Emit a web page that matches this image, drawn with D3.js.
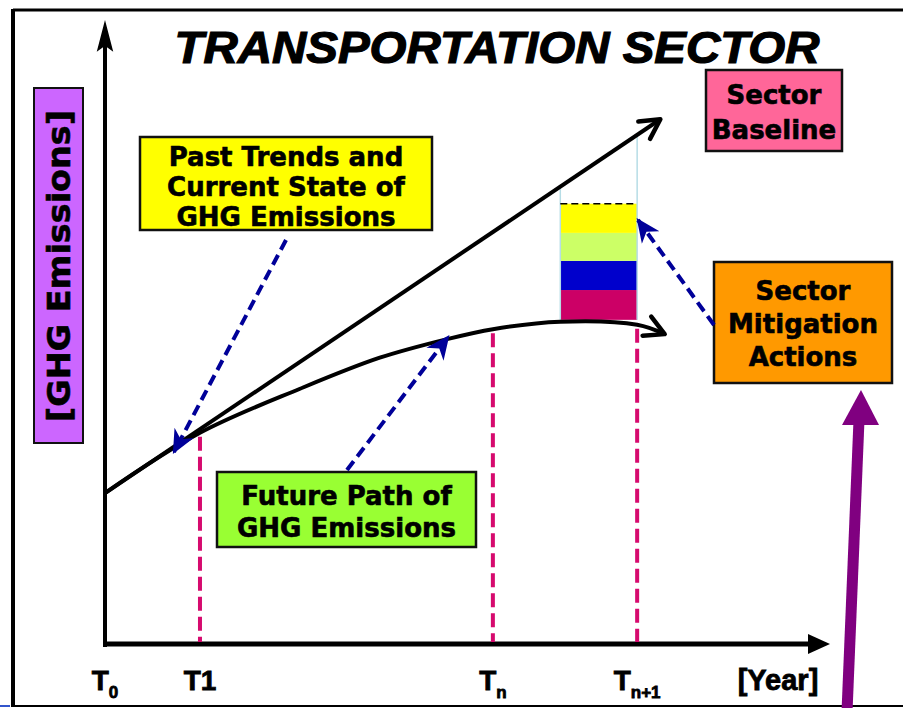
<!DOCTYPE html>
<html>
<head>
<meta charset="utf-8">
<script src="https://cdn.jsdelivr.net/npm/d3@7"></script>
<style>
  html, body { margin: 0; padding: 0; background: #fff; }
  svg { display: block; }
  .box text { font-family: "DejaVu Sans", Verdana, sans-serif; font-weight: bold; fill: #000; }
  .tick text { font-family: "Liberation Sans", Arial, sans-serif; font-weight: bold; stroke: #000; stroke-width: 0.8; }
</style>
</head>
<body>
<svg></svg>
<script>
const width = 903,
      height = 708

// time positions (0..100 along the year axis)
const tickLabels = ["T0", "T1", "Tn", "Tn+1"]
const tickPos = [0, 13.1, 53.5, 73.4]

// sector baseline (straight projection)
const baseX = [0, 76.6]
const baseY = [24.3, 84.5]

// future path of emissions
const pathX = [0, 13.1, 26.9, 37.9, 47.2, 53.5, 62.8, 73.4, 77.2]
const pathY = [24.3, 34.0, 41.1, 46.1, 49.1, 50.7, 51.9, 51.4, 49.9]

// mitigation wedge at Tn+1 (bottom to top)
const actions = [4.8, 4.7, 4.5, 4.7]
const actionColors = ["#cc0066", "#0000cc", "#ccff66", "#ffff00"]
const wedgeFrom = 62.8, wedgeTo = 73.4

const svg = d3.select("svg")
  .attr("width", width)
  .attr("height", height)

const x = d3.scaleLinear().domain([0, 100]).range([105, 830])
const y = d3.scaleLinear().domain([0, 100]).range([644, 23])

const defs = svg.append("defs")

defs.append("marker")
    .attr("id", "chev")
    .attr("viewBox", "0 0 20 20")
    .attr("markerUnits", "userSpaceOnUse")
    .attr("markerWidth", 30)
    .attr("markerHeight", 30)
    .attr("refX", 17)
    .attr("refY", 10)
    .attr("orient", "auto")
  .append("path")
    .attr("d", "M4,3 L17,10 L4,17")
    .attr("fill", "none")
    .attr("stroke", "#000")
    .attr("stroke-width", 3)
    .attr("stroke-linecap", "round")
    .attr("stroke-linejoin", "round")

defs.append("marker")
    .attr("id", "bluehead")
    .attr("viewBox", "0 0 20 20")
    .attr("markerUnits", "userSpaceOnUse")
    .attr("markerWidth", 24)
    .attr("markerHeight", 24)
    .attr("refX", 18)
    .attr("refY", 10)
    .attr("orient", "auto")
  .append("path")
    .attr("d", "M0,1 L20,10 L0,19 L6,10 Z")
    .attr("fill", "#000099")

// frame
svg.append("line").attr("x1", 13).attr("y1", 10).attr("x2", 903).attr("y2", 10)
  .attr("stroke", "#000").attr("stroke-width", 3)
svg.append("line").attr("x1", 13).attr("y1", 9).attr("x2", 13).attr("y2", 707)
  .attr("stroke", "#000").attr("stroke-width", 4)
svg.append("line").attr("x1", 13).attr("y1", 706).attr("x2", 903).attr("y2", 706)
  .attr("stroke", "#000").attr("stroke-width", 2)
svg.append("line").attr("x1", 0).attr("y1", 706).attr("x2", 10).attr("y2", 706)
  .attr("stroke", "#3355cc").attr("stroke-width", 2)

// title
svg.append("text")
  .attr("x", 497)
  .attr("y", 63)
  .attr("text-anchor", "middle")
  .attr("textLength", 645)
  .attr("lengthAdjust", "spacingAndGlyphs")
  .style("font-family", "'Liberation Sans', Arial, sans-serif")
  .style("font-weight", "bold")
  .style("font-style", "italic")
  .style("font-size", "44px")
  .style("stroke", "#000")
  .style("stroke-width", 1.2)
  .text("TRANSPORTATION SECTOR")

// axes
svg.append("line")
  .attr("x1", x(0)).attr("y1", y(0) + 3)
  .attr("x2", x(0)).attr("y2", y(100) + 22)
  .attr("stroke", "#000").attr("stroke-width", 4)
svg.append("path")
  .attr("d", `M${x(0)},${y(100)} L${x(0) - 7},${y(100) + 27} L${x(0)},${y(100) + 22} L${x(0) + 7},${y(100) + 27} Z`)
  .attr("fill", "#000").attr("stroke", "#000").attr("stroke-width", 1.5)

svg.append("line")
  .attr("x1", x(0) - 2).attr("y1", y(0))
  .attr("x2", x(100) - 18).attr("y2", y(0))
  .attr("stroke", "#000").attr("stroke-width", 5)
svg.append("path")
  .attr("d", `M${x(100)},${y(0)} L${x(100) - 22},${y(0) - 10} L${x(100) - 22},${y(0) + 10} Z`)
  .attr("fill", "#000")

// mitigation wedge
const stacked = d3.cumsum(actions)
const wedgeBottom = pathY[6] + 0.3
const wedgeTop = wedgeBottom + stacked[stacked.length - 1]

svg.append("g").selectAll("rect")
  .data(actions)
  .join("rect")
    .attr("x", x(wedgeFrom))
    .attr("width", x(wedgeTo) - x(wedgeFrom))
    .attr("y", (d, i) => y(wedgeBottom + stacked[i]))
    .attr("height", d => y(0) - y(d))
    .attr("fill", (d, i) => actionColors[i])

const baseAt = v => baseY[0] + (baseY[1] - baseY[0]) * v / baseX[1]

;[wedgeFrom, wedgeTo].forEach(v => {
  svg.append("line")
    .attr("x1", x(v)).attr("x2", x(v))
    .attr("y1", y(baseAt(v))).attr("y2", y(wedgeBottom))
    .attr("stroke", "#b6dde6").attr("stroke-width", 1.5)
})
svg.append("line")
  .attr("x1", x(wedgeFrom)).attr("x2", x(wedgeTo))
  .attr("y1", y(wedgeTop)).attr("y2", y(wedgeTop))
  .attr("stroke", "#000").attr("stroke-width", 1.5)
  .attr("stroke-dasharray", "7,4")

// dashed drop lines at T1, Tn, Tn+1
const pathAt = d3.scaleLinear().domain(pathX).range(pathY)
svg.selectAll("line.drop")
  .data(tickPos.slice(1))
  .join("line")
    .classed("drop", true)
    .attr("x1", d => x(d)).attr("x2", d => x(d))
    .attr("y1", d => y(pathAt(d)) + 4)
    .attr("y2", y(0) - 2)
    .attr("stroke", "#d60a6e")
    .attr("stroke-width", 4)
    .attr("stroke-dasharray", "14,6")

// baseline and future path
svg.append("path")
  .datum(baseX.map((d, i) => [d, baseY[i]]))
  .attr("d", d3.line().x(d => x(d[0])).y(d => y(d[1])))
  .attr("fill", "none")
  .attr("stroke", "#000")
  .attr("stroke-width", 4)
  .attr("marker-end", "url(#chev)")

svg.append("path")
  .datum(pathX.map((d, i) => [d, pathY[i]]))
  .attr("d", d3.line().curve(d3.curveCatmullRom).x(d => x(d[0])).y(d => y(d[1])))
  .attr("fill", "none")
  .attr("stroke", "#000")
  .attr("stroke-width", 4)
  .attr("marker-end", "url(#chev)")

// tick labels
const tick = svg.append("g").classed("tick", true)
tickLabels.forEach((t, i) => {
  const txt = tick.append("text")
    .attr("x", x(tickPos[i]))
    .attr("y", 690)
    .attr("text-anchor", "middle")
    .style("font-size", "28px")
  const sub = t.slice(1)
  if (sub === "1") {
    txt.text("T1")
  } else {
    txt.append("tspan").text("T")
    txt.append("tspan")
      .attr("dy", 8)
      .style("font-size", "17px")
      .text(sub)
  }
})
tick.append("text")
  .attr("x", 778)
  .attr("y", 690)
  .attr("text-anchor", "middle")
  .style("font-size", "29px")
  .text("[Year]")

// boxes
function box(x0, y0, w, h, fill, lines, fs, lh, dy) {
  const g = svg.append("g").classed("box", true)
  g.append("rect")
    .attr("x", x0).attr("y", y0)
    .attr("width", w).attr("height", h)
    .attr("fill", fill)
    .attr("stroke", "#111")
    .attr("stroke-width", 2.5)
  lines.forEach((l, i) => {
    g.append("text")
      .attr("x", x0 + w / 2)
      .attr("y", y0 + dy + i * lh)
      .attr("text-anchor", "middle")
      .style("font-size", fs + "px")
      .style("stroke", "#000")
      .style("stroke-width", 0.6)
      .text(l)
  })
  return g
}

box(706, 70, 136, 81, "#ff6699", ["Sector", "Baseline"], 26, 35, 34)
box(714, 262, 178, 121, "#ff9900", ["Sector", "Mitigation", "Actions"], 26, 33, 38)
box(140, 137, 292, 93, "#ffff00", ["Past Trends and", "Current State of", "GHG Emissions"], 26, 30, 29)
box(217, 472, 259, 75, "#99ff33", ["Future Path of", "GHG Emissions"], 26, 32, 33)

// y label
const yl = svg.append("g").classed("box", true)
yl.append("rect")
  .attr("x", 34).attr("y", 88)
  .attr("width", 49).attr("height", 355)
  .attr("fill", "#cc66ff")
  .attr("stroke", "#111")
  .attr("stroke-width", 2)
yl.append("text")
  .attr("transform", "translate(70,266) rotate(-90)")
  .attr("text-anchor", "middle")
  .attr("textLength", 312)
  .attr("lengthAdjust", "spacingAndGlyphs")
  .style("font-size", "32px")
  .style("stroke", "#000")
  .style("stroke-width", 0.6)
  .text("[GHG Emissions]")

// blue dashed pointers
const pointers = [
  [[286, 240], [174, 452]],
  [[347, 470], [448, 337]],
  [[714, 325], [638, 220]]
]
svg.selectAll("line.pointer")
  .data(pointers)
  .join("line")
    .classed("pointer", true)
    .attr("x1", d => d[0][0]).attr("y1", d => d[0][1])
    .attr("x2", d => d[1][0]).attr("y2", d => d[1][1])
    .attr("stroke", "#000099")
    .attr("stroke-width", 4)
    .attr("stroke-dasharray", "11,6")
    .attr("marker-end", "url(#bluehead)")

// purple arrow
svg.append("line")
  .attr("x1", 847).attr("y1", 712)
  .attr("x2", 859).attr("y2", 420)
  .attr("stroke", "#800080")
  .attr("stroke-width", 11)
svg.append("path")
  .attr("d", "M861,390 L879,425 L842,425 Z")
  .attr("fill", "#800080")
</script>
</body>
</html>
